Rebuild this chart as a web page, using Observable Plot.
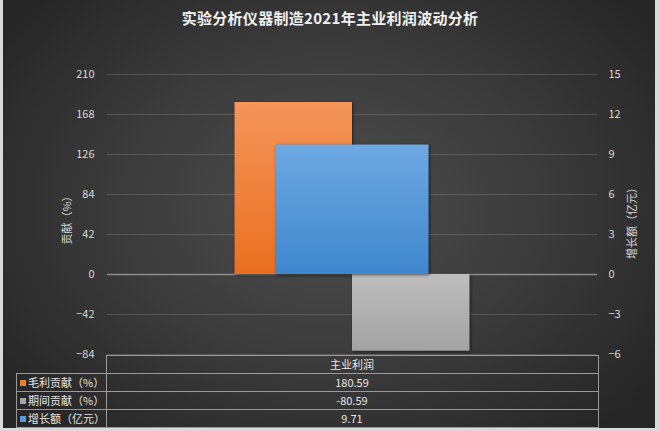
<!DOCTYPE html>
<html>
<head>
<meta charset="utf-8">
<script src="https://cdn.jsdelivr.net/npm/d3@7"></script>
<script src="https://cdn.jsdelivr.net/npm/@observablehq/plot@0.6"></script>
<style>
  html, body { margin: 0; padding: 0; background: #d9d9d9; }
  #wrap { position: relative; width: 660px; height: 431px; overflow: hidden; background: #d9d9d9;
          font-family: "Noto Sans CJK SC", "Noto Sans", sans-serif; }
  #bg { position: absolute; left: 3px; top: 0; width: 652px; height: 428px;
        background: radial-gradient(ellipse 62% 70% at 50% 48%, #4e4e4e 0%, #3a3a3a 55%, #262626 100%); }
  #title { position: absolute; left: 0; top: 7px; width: 660px; text-align: center; color: #f0f0f0;
           font-size: 15px; font-weight: bold; letter-spacing: 0.3px; }
  .layer { position: absolute; left: 0; top: 0; }
  #tbl { position: absolute; left: 16px; top: 355px; border-collapse: collapse; color: #e6e6e6; font-size: 11px; }
  #tbl td { border: 1px solid #9a9a9a; height: 17px; padding: 0; text-align: center; line-height: 17px; }
  #tbl td.lab { text-align: left; padding-left: 3px; white-space: nowrap; }
  #tbl td.blank { border: none; }
  .sw { display: inline-block; width: 6px; height: 6px; margin-right: 2px; vertical-align: 1px; }
</style>
</head>
<body>
<div id="wrap">
  <div id="bg"></div>
  <div id="title"></div>
  <div id="p1" class="layer"></div>
  <div id="p2" class="layer"></div>
  <table id="tbl"></table>
</div>
<script>
// ---- data ----
const chartTitle = "实验分析仪器制造2021年主业利润波动分析";
const categories = ["主业利润"];
const primarySeries = ["毛利贡献（%）", "期间贡献（%）"];
const primaryValues = [180.59, -80.59];
const secondarySeries = ["增长额（亿元）"];
const secondaryValues = [9.71];
const leftTicks = [-84, -42, 0, 42, 84, 126, 168, 210];
const rightTicks = [-6, -3, 0, 3, 6, 9, 12, 15];
const leftLabel = "贡献（%）";
const rightLabel = "增长额（亿元）";
const seriesColors = ["#ed7d31", "#a5a5a5", "#5b9bd5"];

document.getElementById("title").textContent = chartTitle;

const W = 660, H = 360;
const margins = {marginLeft: 107, marginRight: 63, marginTop: 74, marginBottom: 6};
const fontStyle = {background: "transparent", color: "#d9d9d9", fontSize: "11px",
  fontFamily: "'Noto Sans CJK SC', 'Noto Sans', sans-serif", overflow: "visible"};

const primaryData = primarySeries.map((s, i) => ({category: categories[0], series: s, value: primaryValues[i]}));
const secondaryData = secondarySeries.map((s, i) => ({category: categories[0], series: s, value: secondaryValues[i]}));

function addGradient(svg, id, top, bottom) {
  let defs = d3.select(svg).select("defs");
  if (defs.empty()) defs = d3.select(svg).insert("defs", ":first-child");
  const g = defs.append("linearGradient").attr("id", id).attr("x1", 0).attr("y1", 0).attr("x2", 0).attr("y2", 1);
  g.append("stop").attr("offset", "0%").attr("stop-color", top);
  g.append("stop").attr("offset", "100%").attr("stop-color", bottom);
}

// primary axis plot
const p1 = Plot.plot({
  width: W, height: H, ...margins, style: fontStyle,
  x: {domain: primarySeries, paddingInner: 0, paddingOuter: 1.085, round: false, axis: null},
  y: {domain: [leftTicks[0], leftTicks[leftTicks.length - 1]], axis: null},
  marks: [
    Plot.gridY(leftTicks.filter(d => d !== 0), {stroke: "#9a9a9a", strokeOpacity: 0.3}),
    Plot.ruleY([0], {stroke: "#8c8c8c", strokeWidth: 1.5}),
    Plot.barY(primaryData.filter(d => d.series === primarySeries[0]), {x: "series", y: "value", fill: "url(#gOrange)"}),
    Plot.barY(primaryData.filter(d => d.series === primarySeries[1]), {x: "series", y: "value", fill: "url(#gGray)"}),
    Plot.axisY(leftTicks, {anchor: "left", tickSize: 0, tickPadding: 13, label: null, fill: "#d9d9d9"}),
    Plot.text([leftLabel], {frameAnchor: "left", textAnchor: "middle", rotate: -90, dx: -40, dy: 3, fill: "#d9d9d9", fontSize: 11})
  ]
});
addGradient(p1, "gOrange", "#f4955a", "#ea7020");
addGradient(p1, "gGray", "#bdbdbd", "#a3a3a3");
document.getElementById("p1").append(p1);

// secondary axis plot
const p2 = Plot.plot({
  width: W, height: H, ...margins, style: fontStyle,
  x: {domain: categories, paddingInner: 0, paddingOuter: 1.1, round: false, axis: null},
  y: {domain: [rightTicks[0], rightTicks[rightTicks.length - 1]], axis: null},
  marks: [
    Plot.barY(secondaryData, {x: "category", y: "value", fill: "url(#gBlue)"}),
    Plot.axisY(rightTicks, {anchor: "right", tickSize: 0, tickPadding: 11, label: null, fill: "#d9d9d9"}),
    Plot.text([rightLabel], {frameAnchor: "right", textAnchor: "middle", rotate: -90, dx: 35, dy: 6, fill: "#d9d9d9", fontSize: 11})
  ]
});
addGradient(p2, "gBlue", "#6ea9e2", "#3f87cd");
document.getElementById("p2").append(p2);

// bar shadows
d3.selectAll("svg g[aria-label=bar]").attr("style", "filter: drop-shadow(1px 1px 1.5px rgba(0,0,0,0.55))");

// data table
const tbl = d3.select("#tbl");
const head = tbl.append("tr");
head.append("td").attr("class", "blank").style("width", "89px");
head.append("td").style("width", "491px").text(categories[0]);
const allSeries = [...primarySeries, ...secondarySeries];
const allValues = [...primaryValues, ...secondaryValues];
allSeries.forEach((s, i) => {
  const tr = tbl.append("tr");
  const lab = tr.append("td").attr("class", "lab");
  lab.append("span").attr("class", "sw").style("background", seriesColors[i]);
  lab.append("span").text(s);
  tr.append("td").text(allValues[i].toFixed(2));
});
</script>
</body>
</html>
